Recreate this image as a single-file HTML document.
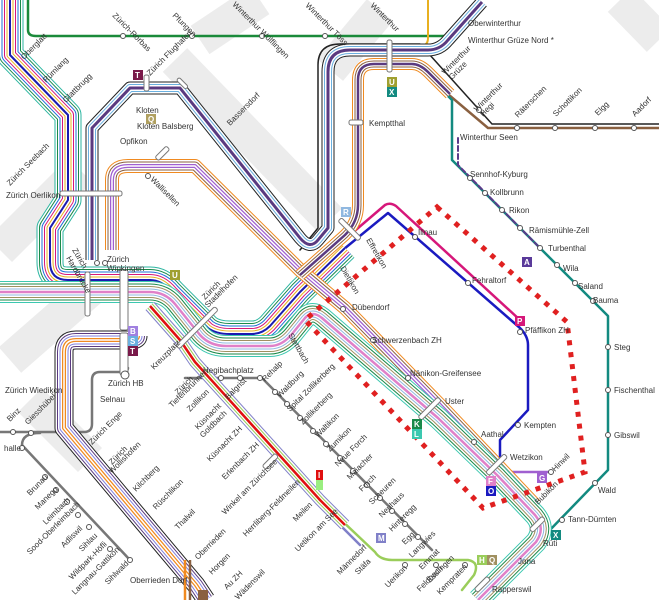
<!DOCTYPE html>
<html><head><meta charset="utf-8"><style>
html,body{margin:0;padding:0;background:#fff;}
svg{display:block;}
text{font-family:"Liberation Sans",sans-serif;font-size:8px;fill:#333;}
</style></head><body>
<svg width="659" height="600" viewBox="0 0 659 600" xmlns="http://www.w3.org/2000/svg">
<defs>
<path id="pNW" d="M10,0 L10,55 L68,115 L68,200 L50,228 L50,262 Q50,280 68,280 L150,280 Q162,280 172,292 L208,328 Q216,334 230,334 L252,334 Q262,334 270,326 L300,292 L345,248"/>
<path id="pFl" d="M92,260 L92,128 L130,88 L180,88 L300,238 Q310,250 318,240 L328,228 L328,72 Q328,50 350,50 L428,50 Q440,50 448,40 L482,2"/>
<path id="pWal" d="M112,250 L112,180 Q112,166 128,166 L195,166 L300,270 L345,308 L440,405 L500,468 L535,505"/>
<path id="pMain" d="M0,292 L150,292 Q165,292 175,304 L200,335 Q210,346 226,346 L270,346 Q282,346 292,334 L305,318 Q312,310 322,318 L438,418 L498,476 L535,515 Q546,528 536,542 L478,600"/>
<path id="pWin" d="M300,275 L345,235 Q358,222 358,205 L358,80 Q358,64 374,64 L412,64 Q420,64 428,72 L450,94"/>
<path id="pLL" d="M138,336 Q138,340 130,340 L76,340 Q64,340 64,352 L64,428 L196,585 L206,600"/>
<path id="pLR" d="M150,306 L180,340 L195,362 L320,500 L345,525"/>
</defs>
<g stroke="#ececec" stroke-width="34" fill="none">
<path d="M0,250 L80,170"/>
<path d="M175,60 L330,220"/>
<path d="M10,360 L90,290"/>
<path d="M200,40 L260,0"/>
<path d="M330,70 L380,10"/>
<path d="M90,460 L30,400"/>
<path d="M620,0 L659,40"/>
</g>
<g fill="none" stroke-linejoin="round" stroke-linecap="round">
<path d="M28,0 L28,30 Q28,36 36,36 L445,36 L480,2" stroke="#1a8a3a" stroke-width="2.5"/>
<path d="M428,0 L428,38 Q428,46 420,46 L345,46" stroke="#e8b020" stroke-width="2"/>
<path d="M300,250 L318,228 L318,65 Q318,44 340,44 L420,44 L492,124 L659,124" stroke="#222" stroke-width="1.5"/>
<path d="M410,62 L488,128 L659,128" stroke="#8a6040" stroke-width="2.5"/>
<path d="M420,68 L452,100 L452,160 L560,268 L608,316 L608,470 L548,532" stroke="#138a80" stroke-width="2.5"/>
<path d="M458,138 L458,165 L540,248" stroke="#5a3a8a" stroke-width="2" stroke-dasharray="5,3"/>
<path d="M300,285 L388,213 L520,328 Q528,336 528,345 L528,410 L500,440 L500,462" stroke="#1a1ac0" stroke-width="2.5"/>
<path d="M295,282 L385,205 Q390,202 396,206 L520,320" stroke="#d6177a" stroke-width="2.5"/>
<path d="M500,465 L512,472 L550,472" stroke="#a060d0" stroke-width="2.5"/>
<path d="M185,378 L262,378 L432,550" stroke="#777" stroke-width="2.5"/>
<path d="M128,368 Q128,372 120,372 L100,372 Q92,372 92,380 L92,424 Q92,432 84,432 L0,432" stroke="#777" stroke-width="2.5"/>
<path d="M40,433 Q22,433 22,445 L130,560" stroke="#777" stroke-width="2.5"/>
<path d="M320,500 L375,552 Q380,560 392,560 L468,560 Q480,562 474,575 L462,590" stroke="#9acd5a" stroke-width="2.5"/>
<path d="M320,505 L360,545" stroke="#8080c8" stroke-width="2.5"/>
</g>
<g fill="none" stroke-linejoin="round">
<use href="#pNW" stroke="#2bb5a0" stroke-width="27"/><use href="#pNW" stroke="#fff" stroke-width="25"/>
<use href="#pNW" stroke="#1a8a4a" stroke-width="22"/><use href="#pNW" stroke="#fff" stroke-width="20"/>
<use href="#pNW" stroke="#1e70d8" stroke-width="17"/><use href="#pNW" stroke="#fff" stroke-width="15"/>
<use href="#pNW" stroke="#d6177a" stroke-width="12"/><use href="#pNW" stroke="#fff" stroke-width="10"/>
<use href="#pNW" stroke="#e8b020" stroke-width="7"/><use href="#pNW" stroke="#fff" stroke-width="5"/>
<use href="#pNW" stroke="#1a1ab0" stroke-width="2"/>

<use href="#pFl" stroke="#222" stroke-width="13"/><use href="#pFl" stroke="#fff" stroke-width="11"/>
<use href="#pFl" stroke="#6ab0e0" stroke-width="8"/><use href="#pFl" stroke="#fff" stroke-width="6"/>
<use href="#pFl" stroke="#5a3a80" stroke-width="3"/>

<use href="#pWal" stroke="#f08a20" stroke-width="14"/><use href="#pWal" stroke="#fff" stroke-width="12"/>
<use href="#pWal" stroke="#8a6040" stroke-width="9"/><use href="#pWal" stroke="#fff" stroke-width="7"/>
<use href="#pWal" stroke="#a060d0" stroke-width="4"/><use href="#pWal" stroke="#fff" stroke-width="1.5"/>

<use href="#pWin" stroke="#f08a20" stroke-width="12"/><use href="#pWin" stroke="#fff" stroke-width="10"/>
<use href="#pWin" stroke="#8a6040" stroke-width="7"/><use href="#pWin" stroke="#fff" stroke-width="5"/>
<use href="#pWin" stroke="#5a3a80" stroke-width="2.5"/>

<use href="#pMain" stroke="#3cc8b0" stroke-width="22"/><use href="#pMain" stroke="#fff" stroke-width="20"/>
<use href="#pMain" stroke="#1a8a4a" stroke-width="17"/><use href="#pMain" stroke="#fff" stroke-width="15"/>
<use href="#pMain" stroke="#a09060" stroke-width="12"/><use href="#pMain" stroke="#fff" stroke-width="10"/>
<use href="#pMain" stroke="#90b8e0" stroke-width="7"/><use href="#pMain" stroke="#fff" stroke-width="5"/>
<use href="#pMain" stroke="#e080c8" stroke-width="2.5"/>

<use href="#pLL" stroke="#222" stroke-width="19"/><use href="#pLL" stroke="#fff" stroke-width="17"/>
<use href="#pLL" stroke="#5a3a80" stroke-width="14"/><use href="#pLL" stroke="#fff" stroke-width="12"/>
<use href="#pLL" stroke="#8080e0" stroke-width="9"/><use href="#pLL" stroke="#fff" stroke-width="7"/>
<use href="#pLL" stroke="#f08a20" stroke-width="4"/><use href="#pLL" stroke="#fff" stroke-width="1.5"/>

<use href="#pLR" stroke="#8080c8" stroke-width="12"/><use href="#pLR" stroke="#fff" stroke-width="10"/>
<use href="#pLR" stroke="#9acd5a" stroke-width="7"/><use href="#pLR" stroke="#fff" stroke-width="5"/>
<use href="#pLR" stroke="#e01010" stroke-width="2.5"/>
<path d="M185,560 L185,600" stroke="#f08a20" stroke-width="2.5"/>
<path d="M190,560 L190,600" stroke="#8a6040" stroke-width="2.5"/>
</g>
<path d="M437,207 L567,322 L585,472 L483,508 L305,320 Z" fill="none" stroke="#e02020" stroke-width="5" stroke-dasharray="5,7"/>
<g fill="#fff" stroke="#777" stroke-width="1">
<rect x="60" y="191" width="62" height="5" rx="2"/>
<rect x="144" y="75" width="5" height="16" rx="2"/>
<rect x="85" y="272" width="5" height="44" rx="2"/>
<rect x="120" y="270" width="8" height="60" rx="2"/>
<rect x="120" y="333" width="8" height="42" rx="2"/>
<rect x="180" y="77" width="4" height="13" rx="2" transform="rotate(-45 182 83)"/>
<rect x="387" y="40" width="5" height="32" rx="2"/>
<rect x="349" y="120" width="14" height="5" rx="2"/>
<rect x="427" y="395" width="5" height="28" rx="2" transform="rotate(45 430 409)"/>
<rect x="494" y="452" width="5" height="26" rx="2" transform="rotate(45 497 465)"/>
<rect x="195" y="300" width="5" height="55" rx="2" transform="rotate(45 197 327)"/>
<rect x="347" y="215" width="5" height="28" rx="2" transform="rotate(-45 350 229)"/>
<rect x="535" y="515" width="5" height="18" rx="2" transform="rotate(45 537 524)"/>
<rect x="480" y="575" width="5" height="18" rx="2" transform="rotate(45 482 584)"/>
<rect x="160" y="145" width="5" height="16" rx="2" transform="rotate(45 162 153)"/>
<rect x="268" y="452" width="5" height="18" rx="2" transform="rotate(45 270 461)"/>
</g>
<g fill="#fff" stroke="#555" stroke-width="1">
<circle cx="123" cy="36" r="2.5"/><circle cx="192" cy="36" r="2.5"/><circle cx="262" cy="36" r="2.5"/><circle cx="325" cy="36" r="2.5"/>
<circle cx="517" cy="128" r="2.5"/><circle cx="555" cy="128" r="2.5"/><circle cx="595" cy="128" r="2.5"/><circle cx="634" cy="128" r="2.5"/>
<circle cx="479" cy="110" r="2.5"/><circle cx="148" cy="176" r="2.5"/>
<circle cx="470" cy="178" r="2.5"/><circle cx="485" cy="193" r="2.5"/><circle cx="502" cy="210" r="2.5"/><circle cx="520" cy="228" r="2.5"/><circle cx="540" cy="248" r="2.5"/>
<circle cx="557" cy="265" r="2.5"/><circle cx="575" cy="283" r="2.5"/><circle cx="593" cy="301" r="2.5"/><circle cx="608" cy="347" r="2.5"/><circle cx="608" cy="390" r="2.5"/><circle cx="608" cy="435" r="2.5"/><circle cx="595" cy="483" r="2.5"/><circle cx="562" cy="520" r="2.5"/>
<circle cx="415" cy="237" r="2.5"/><circle cx="468" cy="283" r="2.5"/><circle cx="520" cy="332" r="2.5"/><circle cx="518" cy="425" r="2.5"/><circle cx="551" cy="472" r="2.5"/>
<circle cx="343" cy="309" r="2.5"/><circle cx="373" cy="340" r="2.5"/><circle cx="408" cy="378" r="2.5"/><circle cx="474" cy="442" r="2.5"/>
<circle cx="221" cy="378" r="2.5"/><circle cx="240" cy="378" r="2.5"/><circle cx="260" cy="378" r="2.5"/>
<circle cx="275" cy="392" r="2.5"/><circle cx="287" cy="404" r="2.5"/><circle cx="300" cy="418" r="2.5"/><circle cx="313" cy="431" r="2.5"/><circle cx="326" cy="444" r="2.5"/><circle cx="340" cy="458" r="2.5"/><circle cx="353" cy="471" r="2.5"/><circle cx="367" cy="485" r="2.5"/><circle cx="380" cy="498" r="2.5"/><circle cx="392" cy="511" r="2.5"/><circle cx="405" cy="524" r="2.5"/><circle cx="418" cy="537" r="2.5"/>
<circle cx="45" cy="477" r="2.5"/><circle cx="56" cy="490" r="2.5"/><circle cx="67" cy="502" r="2.5"/><circle cx="78" cy="515" r="2.5"/><circle cx="89" cy="527" r="2.5"/><circle cx="110" cy="549" r="2.5"/><circle cx="130" cy="560" r="2.5"/>
<circle cx="22" cy="448" r="2.5"/><circle cx="31" cy="433" r="2.5"/><circle cx="13" cy="432" r="2.5"/>
<circle cx="405" cy="565" r="2.5"/><circle cx="436" cy="565" r="2.5"/><circle cx="465" cy="565" r="2.5"/>
<circle cx="97" cy="263" r="2.5"/><circle cx="105" cy="263" r="2.5"/>
<circle cx="125" cy="375" r="4"/>
</g>
<g font-family="Liberation Sans" font-size="8" font-weight="bold">
<rect x="133" y="70" width="10" height="10" fill="#7a1a4a"/><text x="135" y="78" style="fill:#fff">T</text>
<rect x="146" y="114" width="10" height="10" fill="#b0a060"/><text x="148" y="122" style="fill:#fff">Q</text>
<rect x="387" y="77" width="10" height="10" fill="#a0a030"/><text x="389" y="85" style="fill:#fff">U</text>
<rect x="387" y="87" width="10" height="10" fill="#138a80"/><text x="389" y="95" style="fill:#fff">X</text>
<rect x="341" y="207" width="10" height="10" fill="#90b8e0"/><text x="343" y="215" style="fill:#fff">R</text>
<rect x="170" y="270" width="10" height="10" fill="#a0a030"/><text x="172" y="278" style="fill:#fff">U</text>
<rect x="128" y="326" width="10" height="10" fill="#a080e0"/><text x="130" y="334" style="fill:#fff">B</text>
<rect x="128" y="336" width="10" height="10" fill="#6ab0e0"/><text x="130" y="344" style="fill:#fff">S</text>
<rect x="128" y="346" width="10" height="10" fill="#7a1a4a"/><text x="130" y="354" style="fill:#fff">T</text>
<rect x="522" y="257" width="10" height="10" fill="#5a3a9a"/><text x="524" y="265" style="fill:#fff">A</text>
<rect x="515" y="316" width="10" height="10" fill="#d6177a"/><text x="517" y="324" style="fill:#fff">P</text>
<rect x="412" y="419" width="10" height="10" fill="#1a8a4a"/><text x="414" y="427" style="fill:#fff">K</text>
<rect x="412" y="429" width="10" height="10" fill="#3cc8b0"/><text x="414" y="437" style="fill:#fff">L</text>
<rect x="486" y="476" width="10" height="10" fill="#e080c8"/><text x="488" y="484" style="fill:#fff">F</text>
<rect x="486" y="486" width="10" height="10" fill="#1a1ac0"/><text x="488" y="494" style="fill:#fff">O</text>
<rect x="537" y="473" width="10" height="10" fill="#a060d0"/><text x="539" y="481" style="fill:#fff">G</text>
<rect x="551" y="530" width="10" height="10" fill="#138a80"/><text x="553" y="538" style="fill:#fff">X</text>
<rect x="376" y="533" width="10" height="10" fill="#8080c8"/><text x="378" y="541" style="fill:#fff">M</text>
<rect x="477" y="555" width="10" height="10" fill="#9acd5a"/><text x="479" y="563" style="fill:#fff">H</text>
<rect x="487" y="555" width="10" height="10" fill="#a09060"/><text x="489" y="563" style="fill:#fff">Q</text>
<rect x="316" y="470" width="7" height="10" fill="#e01010"/><text x="318" y="478" style="fill:#fff">I</text>
<rect x="316" y="480" width="7" height="10" fill="#9aee80"/>
<rect x="198" y="590" width="10" height="10" fill="#8a6040"/>
</g>
<g>
<text x="468" y="26">Oberwinterthur</text>
<text x="468" y="43">Winterthur Grüze Nord *</text>
<text x="369" y="126">Kemptthal</text>
<text x="460" y="140">Winterthur Seen</text>
<text x="470" y="177">Sennhof-Kyburg</text>
<text x="490" y="195">Kollbrunn</text>
<text x="509" y="213">Rikon</text>
<text x="529" y="233">Rämismühle-Zell</text>
<text x="548" y="251">Turbenthal</text>
<text x="563" y="271">Wila</text>
<text x="578" y="289">Saland</text>
<text x="593" y="303">Bauma</text>
<text x="614" y="350">Steg</text>
<text x="614" y="393">Fischenthal</text>
<text x="614" y="438">Gibswil</text>
<text x="598" y="493">Wald</text>
<text x="568" y="522">Tann-Dürnten</text>
<text x="543" y="546">Rüti</text>
<text x="518" y="564">Jona</text>
<text x="492" y="592">Rapperswil</text>
<text x="418" y="235">Illnau</text>
<text x="472" y="283">Fehraltorf</text>
<text x="525" y="333">Pfäffikon ZH</text>
<text x="524" y="428">Kempten</text>
<text x="510" y="460">Wetzikon</text>
<text x="481" y="437">Aathal</text>
<text x="445" y="404">Uster</text>
<text x="410" y="376">Nänikon-Greifensee</text>
<text x="372" y="343">Schwerzenbach ZH</text>
<text x="352" y="310">Dübendorf</text>
<text x="136" y="113">Kloten</text>
<text x="137" y="129">Kloten Balsberg</text>
<text x="120" y="144">Opfikon</text>
<text x="6" y="198">Zürich Oerlikon</text>
<text x="107" y="262">Zürich</text>
<text x="107" y="271">Wipkingen</text>
<text x="108" y="386">Zürich HB</text>
<text x="100" y="402">Selnau</text>
<text x="5" y="393">Zürich Wiedikon</text>
<text x="4" y="451">halle</text>
<text x="203" y="373">Hegibachplatz</text>
<text x="130" y="583">Oberrieden Dorf</text>
</g>
<g font-size="7.5">
<text transform="translate(112,16) rotate(45)">Zürich-Rorbas</text>
<text transform="translate(172,16) rotate(45)">Pfungen</text>
<text transform="translate(232,5) rotate(45)">Winterthur Wülflingen</text>
<text transform="translate(305,6) rotate(45)">Winterthur Töss</text>
<text transform="translate(370,6) rotate(45)">Winterthur</text>
<text transform="translate(24,60) rotate(-45)">Oberglatt</text>
<text transform="translate(46,83) rotate(-45)">Rümlang</text>
<text transform="translate(66,103) rotate(-45)">Glattbrugg</text>
<text transform="translate(150,76) rotate(-45)">Zürich Flughafen</text>
<text transform="translate(230,126) rotate(-45)">Bassersdorf</text>
<text transform="translate(150,180) rotate(45)">Wallisellen</text>
<text transform="translate(10,186) rotate(-45)">Zürich Seebach</text>
<text transform="translate(72,250) rotate(60)">Zürich</text>
<text transform="translate(66,258) rotate(60)">Hardbrücke</text>
<text transform="translate(205,300) rotate(-45)">Zürich</text>
<text transform="translate(208,308) rotate(-45)">Stadelhofen</text>
<text transform="translate(445,75) rotate(-45)">Winterthur</text>
<text transform="translate(452,80) rotate(-45)">Grüze</text>
<text transform="translate(477,112) rotate(-45)">Winterthur</text>
<text transform="translate(483,117) rotate(-45)">Hegi</text>
<text transform="translate(518,118) rotate(-45)">Räterschen</text>
<text transform="translate(556,117) rotate(-45)">Schottikon</text>
<text transform="translate(598,116) rotate(-45)">Elgg</text>
<text transform="translate(635,117) rotate(-45)">Aadorf</text>
<text transform="translate(366,240) rotate(60)">Effretikon</text>
<text transform="translate(340,268) rotate(60)">Dietlikon</text>
<text transform="translate(288,335) rotate(60)">Stettbach</text>
<text transform="translate(555,472) rotate(-45)">Hinwil</text>
<text transform="translate(538,505) rotate(-45)">Bubikon</text>
<text transform="translate(154,370) rotate(-45)">Kreuzplatz</text>
<text transform="translate(178,395) rotate(-45)">Zürich</text>
<text transform="translate(172,408) rotate(-45)">Tiefenbrunnen</text>
<text transform="translate(190,412) rotate(-45)">Zollikon</text>
<text transform="translate(198,430) rotate(-45)">Küsnacht</text>
<text transform="translate(203,438) rotate(-45)">Goldbach</text>
<text transform="translate(210,462) rotate(-45)">Küsnacht ZH</text>
<text transform="translate(225,480) rotate(-45)">Erlenbach ZH</text>
<text transform="translate(225,515) rotate(-45)">Winkel am Zürichsee</text>
<text transform="translate(246,537) rotate(-45)">Herrliberg-Feldmeilen</text>
<text transform="translate(296,522) rotate(-45)">Meilen</text>
<text transform="translate(298,552) rotate(-45)">Uetikon am See</text>
<text transform="translate(340,575) rotate(-45)">Männedorf</text>
<text transform="translate(358,575) rotate(-45)">Stäfa</text>
<text transform="translate(388,588) rotate(-45)">Uerikon</text>
<text transform="translate(420,592) rotate(-45)">Feldbach</text>
<text transform="translate(440,595) rotate(-45)">Kempraten</text>
<text transform="translate(228,400) rotate(-45)">Balgrist</text>
<text transform="translate(265,382) rotate(-45)">Rehalp</text>
<text transform="translate(280,398) rotate(-45)">Waldburg</text>
<text transform="translate(290,412) rotate(-45)">Spital Zollikerberg</text>
<text transform="translate(303,425) rotate(-45)">Zollikerberg</text>
<text transform="translate(318,438) rotate(-45)">Waltikon</text>
<text transform="translate(330,452) rotate(-45)">Zumikon</text>
<text transform="translate(338,467) rotate(-45)">Neue Forch</text>
<text transform="translate(350,480) rotate(-45)">Maiacher</text>
<text transform="translate(362,492) rotate(-45)">Forch</text>
<text transform="translate(372,505) rotate(-45)">Scheuren</text>
<text transform="translate(382,518) rotate(-45)">Neuhaus</text>
<text transform="translate(392,532) rotate(-45)">Hinteregg</text>
<text transform="translate(405,545) rotate(-45)">Egg</text>
<text transform="translate(412,558) rotate(-45)">Langwies</text>
<text transform="translate(422,570) rotate(-45)">Emmat</text>
<text transform="translate(430,583) rotate(-45)">Esslingen</text>
<text transform="translate(92,445) rotate(-45)">Zürich Enge</text>
<text transform="translate(112,465) rotate(-45)">Zürich</text>
<text transform="translate(112,474) rotate(-45)">Wollishofen</text>
<text transform="translate(136,492) rotate(-45)">Kilchberg</text>
<text transform="translate(156,510) rotate(-45)">Rüschlikon</text>
<text transform="translate(178,530) rotate(-45)">Thalwil</text>
<text transform="translate(198,560) rotate(-45)">Oberrieden</text>
<text transform="translate(212,575) rotate(-45)">Horgen</text>
<text transform="translate(227,590) rotate(-45)">Au ZH</text>
<text transform="translate(238,600) rotate(-45)">Wädenswil</text>
<text transform="translate(10,422) rotate(-45)">Binz</text>
<text transform="translate(28,425) rotate(-45)">Giesshübel</text>
<text transform="translate(30,496) rotate(-45)">Brunau</text>
<text transform="translate(38,510) rotate(-45)">Manegg</text>
<text transform="translate(46,525) rotate(-45)">Leimbach</text>
<text transform="translate(30,555) rotate(-45)">Sood-Oberleimbach</text>
<text transform="translate(64,548) rotate(-45)">Adliswil</text>
<text transform="translate(82,552) rotate(-45)">Sihlau</text>
<text transform="translate(72,580) rotate(-45)">Wildpark-Höfli</text>
<text transform="translate(75,595) rotate(-45)">Langnau-Gattikon</text>
<text transform="translate(108,585) rotate(-45)">Sihlwald</text>
</g>
</svg>
</body></html>
